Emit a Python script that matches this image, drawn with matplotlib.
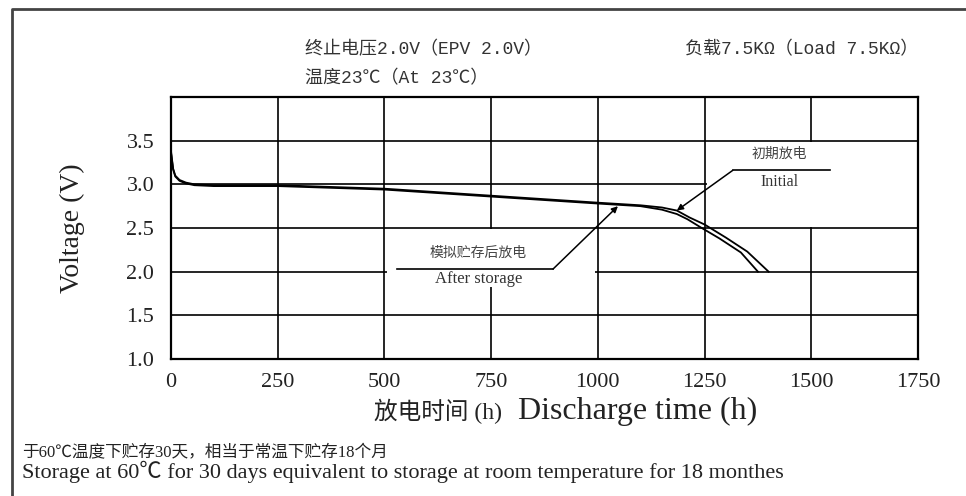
import matplotlib
matplotlib.use("Agg")
import matplotlib.pyplot as plt
from matplotlib.patches import Rectangle
from matplotlib.lines import Line2D

plt.rcParams['font.family'] = ['Liberation Serif', 'Noto Sans CJK SC']

# curva de descarga inicial
t_initial = [0, 5, 10, 20, 35, 55, 100, 250, 500, 750, 1000, 1050, 1100, 1150, 1185, 1215, 1250, 1300, 1350, 1400]
v_initial = [3.38, 3.18, 3.10, 3.05, 3.02, 3.00, 2.99, 2.99, 2.95, 2.87, 2.79, 2.775, 2.76, 2.735, 2.70, 2.62, 2.54, 2.39, 2.23, 2.00]

# curva apos armazenamento
t_storage = [0, 5, 10, 20, 35, 55, 100, 250, 500, 750, 1000, 1050, 1100, 1150, 1185, 1210, 1240, 1285, 1335, 1375]
v_storage = [3.36, 3.17, 3.09, 3.04, 3.01, 2.99, 2.98, 2.98, 2.94, 2.86, 2.78, 2.765, 2.75, 2.71, 2.66, 2.60, 2.51, 2.38, 2.22, 2.00]

x_ticks = [0, 250, 500, 750, 1000, 1250, 1500, 1750]
y_ticks = [1.0, 1.5, 2.0, 2.5, 3.0, 3.5]

W, H = 966, 496
fig = plt.figure(figsize=(W / 100, H / 100), dpi=100)
ax = fig.add_axes([171 / W, 1 - 359 / H, (918 - 171) / W, (359 - 97) / H])

ax.set_xlim(0, 1750)
ax.set_ylim(1.0, 4.0)
ax.set_xticks(x_ticks)
ax.set_yticks(y_ticks)
ax.set_xticklabels([str(x) for x in x_ticks])
ax.set_yticklabels([f'{y:.1f}' for y in y_ticks])
ax.tick_params(length=0, labelsize=16, colors='#222222')
ax.tick_params(axis='x', pad=10)
ax.tick_params(axis='y', pad=12)
ax.grid(True, color='black', lw=1.2, zorder=1)
ax.set_axisbelow(True)
for s in ax.spines.values():
    s.set_linewidth(1.6)
    s.set_color('black')

# caixas brancas das legendas (escondem a grade)
ax.add_patch(Rectangle((1256, 2.515), 494, 0.97, facecolor='white', edgecolor='none', zorder=1.5))
ax.add_patch(Rectangle((506, 1.82), 488, 0.67, facecolor='white', edgecolor='none', zorder=1.5))

ax.plot(t_storage, v_storage, color='black', lw=1.3, zorder=3)
ax.plot(t_initial, v_initial, color='black', lw=1.3, zorder=3)

# anotacao "Initial"
ax.plot([1316, 1544], [3.16, 3.16], color='black', lw=1.2, zorder=3)
ax.annotate('', xy=(1185, 2.70), xytext=(1316, 3.16),
            arrowprops=dict(arrowstyle='-|>', color='black', lw=1.1, mutation_scale=9, shrinkA=0, shrinkB=0), zorder=3)
ax.text(1425, 3.35, '初期放电', ha='center', va='center', fontsize=10, color='#444444',
        family=['Noto Sans CJK SC'])
ax.text(1425, 3.03, 'Initial', ha='center', va='center', fontsize=11.5, color='#333333')

# anotacao "After storage"
ax.plot([529, 895], [2.03, 2.03], color='black', lw=1.2, zorder=3)
ax.annotate('', xy=(1047, 2.75), xytext=(895, 2.03),
            arrowprops=dict(arrowstyle='-|>', color='black', lw=1.1, mutation_scale=9, shrinkA=0, shrinkB=0), zorder=3)
ax.text(720, 2.21, '模拟贮存后放电', ha='center', va='center', fontsize=10, color='#444444',
        family=['Noto Sans CJK SC'])
ax.text(720, 1.92, 'After storage', ha='center', va='center', fontsize=12, color='#333333')

ax.set_ylabel('Voltage (V)', fontsize=20, color='#222222', labelpad=30)

# titulo superior
mono = ['Liberation Mono', 'Noto Sans CJK SC']
fig.text(305 / W, 1 - 50 / H, '终止电压2.0V（EPV 2.0V）', ha='left', va='center',
         fontsize=13, family=mono, color='#333333')
fig.text(918 / W, 1 - 50 / H, '负载7.5KΩ（Load 7.5KΩ）', ha='right', va='center',
         fontsize=13, family=mono, color='#333333')
fig.text(305 / W, 1 - 79 / H, '温度23℃（At 23℃）', ha='left', va='center',
         fontsize=13, family=mono, color='#333333')

# rotulo do eixo x
fig.text(502 / W, 1 - 411 / H, '放电时间 (h)', ha='right', va='center', fontsize=17, color='#222222')
fig.text(518 / W, 1 - 411 / H, 'Discharge time (h)', ha='left', va='center', fontsize=23, color='#222222')

# notas de rodape
fig.text(22 / W, 1 - 453 / H, '于60℃温度下贮存30天，相当于常温下贮存18个月', ha='left', va='center',
         fontsize=12, color='#222222')
fig.text(22 / W, 1 - 472 / H, 'Storage at 60℃ for 30 days equivalent to storage at room temperature for 18 monthes',
         ha='left', va='center', fontsize=16, color='#222222')

# moldura externa
fig.add_artist(Line2D([12 / W, 12 / W, 1.0], [0.0, 1 - 9 / H, 1 - 9 / H],
                      transform=fig.transFigure, color='#444444', lw=2))

fig.savefig('out.png', dpi=100)
